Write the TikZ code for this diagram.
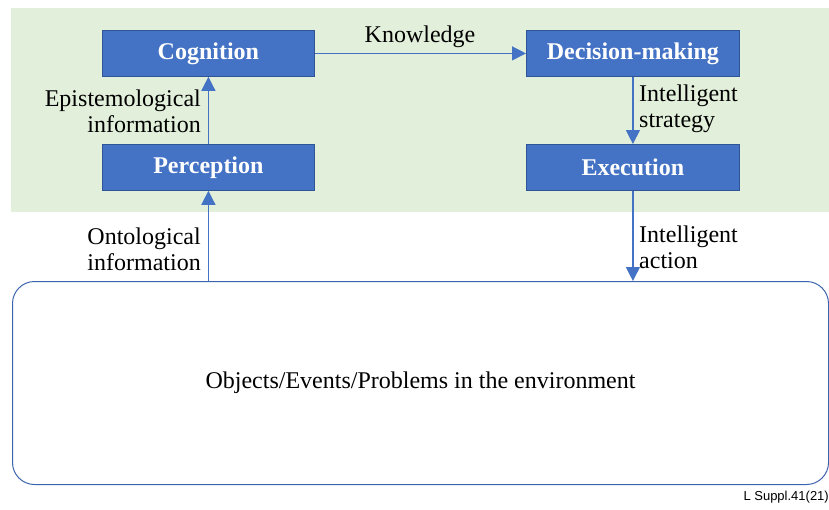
\documentclass[tikz,border=0pt]{standalone}
\usepackage{fontspec}
\setmainfont{Liberation Serif}
\newfontfamily\figsans{Liberation Sans}
\usetikzlibrary{arrows.meta}
\definecolor{boxblue}{HTML}{4472C4}
\definecolor{boxedge}{HTML}{2F5597}
\definecolor{bggreen}{HTML}{E2EFDA}
\definecolor{envedge}{HTML}{3B64AD}
\tikzset{
  stage/.style={draw=boxedge, line width=0.8pt, fill=boxblue, text=white,
    font=\fontsize{24}{26}\selectfont\bfseries, minimum width=212pt, minimum height=46pt,
    inner sep=0pt, anchor=north west},
  lbl/.style={font=\fontsize{24}{26}\selectfont, inner sep=0pt, text=black},
  flow/.style={draw=boxblue, line width=1.2pt, -{Triangle[length=14pt,width=14pt]}},
}
\begin{document}
\begin{tikzpicture}[x=1pt,y=-1pt]
\useasboundingbox (0,0) rectangle (829,509);
\fill[bggreen] (11,8) rectangle (829,212);
\node[stage] (cog) at (102,30) {Cognition};
\node[stage] (per) at (102,144) {Perception};
\node[stage, minimum width=213pt] (dec) at (526,30) {Decision-making};
\node[stage, minimum width=213pt] (exe) at (526,144) {Execution};
\node[draw=envedge, line width=1pt, rounded corners=22pt, minimum width=816pt, minimum height=203pt,
  anchor=north west, inner sep=0pt, font=\fontsize{24}{26}\selectfont] (env) at (12,281)
  {Objects/Events/Problems in the environment};
\draw[flow] (per.north) -- (cog.south);
\draw[flow] (cog.east) -- (dec.west);
\draw[flow] (dec.south) -- (exe.north);
\draw[flow] (per |- env.north) -- (per.south);
\draw[flow] (exe.south) -- (exe |- env.north);
\node[lbl] (know) at (420,37) {Knowledge};
\node[lbl, align=right, anchor=east] (epi) at (201,111) {Epistemological\\information};
\node[lbl, align=left, anchor=west] (strat) at (639,109) {Intelligent\\strategy};
\node[lbl, align=right, anchor=east] (onto) at (201,249) {Ontological\\information};
\node[lbl, align=left, anchor=west] (act) at (639,247) {Intelligent\\action};
\node[font=\figsans\fontsize{13}{15}\selectfont, anchor=east, inner sep=0pt] (ref) at (829,497) {L Suppl.41(21)};
\end{tikzpicture}
\end{document}
